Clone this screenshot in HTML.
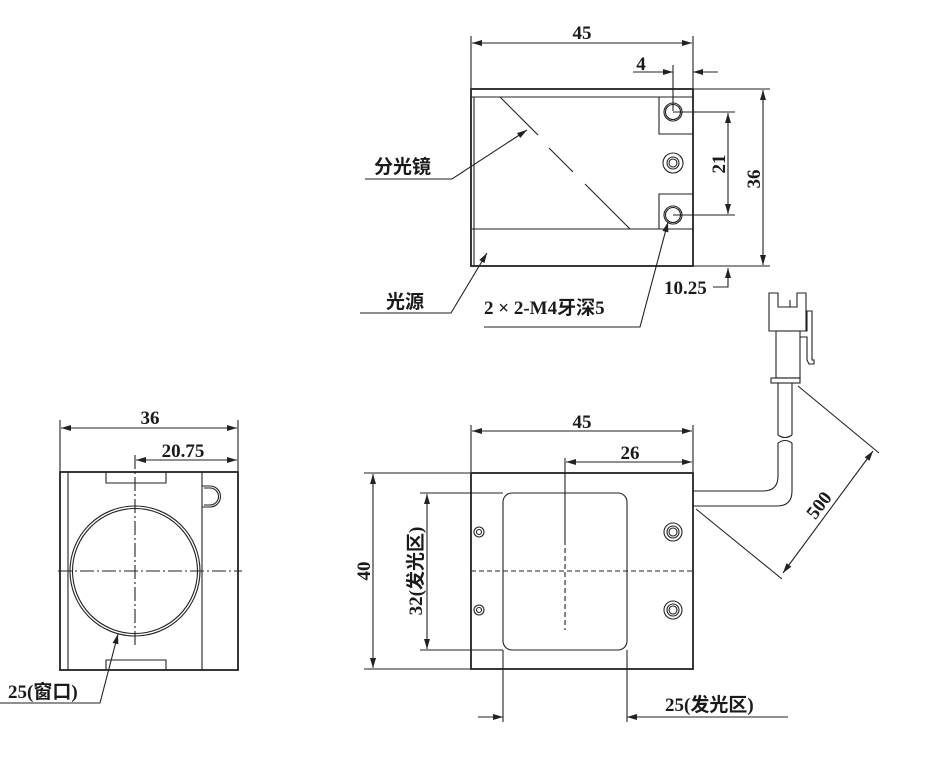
<!DOCTYPE html>
<html><head><meta charset="utf-8"><style>
html,body{margin:0;padding:0;background:#fff;}
svg{display:block;}
.n{font-family:"Liberation Serif",serif;font-weight:bold;font-size:19px;fill:#1a1a1a;}
.c{font-family:"Liberation Serif","Noto Sans CJK SC",sans-serif;font-weight:bold;font-size:19px;fill:#1a1a1a;}
</style></head><body>
<svg width="933" height="773" viewBox="0 0 933 773" xmlns="http://www.w3.org/2000/svg">
<defs>
<marker id="a" viewBox="0 0 10 6" refX="10" refY="3" markerWidth="11" markerHeight="6" orient="auto-start-reverse" markerUnits="userSpaceOnUse"><path d="M0,0 L10,3 L0,6z" fill="#222"/></marker>
</defs>
<g stroke="#222" stroke-width="1.1" fill="none">
<!-- TOP VIEW -->
<rect x="471" y="89" width="222" height="177" stroke-width="1.8"/>
<line x1="471" y1="97" x2="693" y2="97"/>
<line x1="471" y1="229" x2="693" y2="229"/>
<line x1="474" y1="97" x2="474" y2="266"/>
<polyline points="693,134 659,134 659,97"/>
<polyline points="693,194 659,194 659,229"/>
<circle cx="673" cy="112" r="9"/><circle cx="673" cy="112" r="7.5"/>
<circle cx="673" cy="215" r="9"/><circle cx="673" cy="215" r="7.5"/>
<circle cx="673" cy="163" r="10"/><circle cx="673" cy="163" r="6"/><circle cx="673" cy="163" r="4"/>
<line x1="500" y1="97" x2="538" y2="135"/>
<line x1="549" y1="148" x2="573" y2="172"/>
<line x1="585" y1="184" x2="630" y2="229"/>
<!-- dims top -->
<line x1="471" y1="36" x2="471" y2="88"/>
<line x1="693" y1="36" x2="693" y2="88"/>
<line x1="472" y1="43" x2="692" y2="43" marker-start="url(#a)" marker-end="url(#a)"/>
<line x1="673" y1="65" x2="673" y2="111"/>
<line x1="633" y1="72" x2="673" y2="72" marker-end="url(#a)"/>
<line x1="718" y1="72" x2="693" y2="72" marker-end="url(#a)"/>
<line x1="673" y1="112" x2="735" y2="112"/>
<line x1="673" y1="215" x2="735" y2="215"/>
<line x1="728" y1="113" x2="728" y2="214" marker-start="url(#a)" marker-end="url(#a)"/>
<line x1="693" y1="89" x2="770" y2="89"/>
<line x1="693" y1="266" x2="770" y2="266"/>
<line x1="763" y1="90" x2="763" y2="265" marker-start="url(#a)" marker-end="url(#a)"/>
<polyline points="713,287 728,287 728,268" marker-end="url(#a)"/>
<!-- leaders top -->
<polyline points="365,179 452,179 527,130" marker-end="url(#a)"/>
<polyline points="360,313 451,313 487,253" marker-end="url(#a)"/>
<polyline points="484,327 640,327 668,222" marker-end="url(#a)"/>

<!-- LEFT VIEW -->
<rect x="60" y="472" width="178" height="198" stroke-width="1.8"/>
<line x1="68" y1="472" x2="68" y2="670"/>
<line x1="202" y1="472" x2="202" y2="670"/>
<polyline points="106,472 106,483 166,483 166,472"/>
<polyline points="106,670 106,660 166,660 166,670"/>
<circle cx="135" cy="571" r="65"/><circle cx="135" cy="571" r="62.5"/>
<path d="M202,486 L210,486 A10.5,10.5 0 0 1 210,507 L202,507"/>
<path d="M204,488 L210,488 A8.5,8.5 0 0 1 210,505 L204,505"/>
<line x1="58" y1="571" x2="242" y2="571" stroke-dasharray="14,3,2,3"/>
<line x1="135" y1="455" x2="135" y2="645" stroke-dasharray="14,3,2,3"/>
<line x1="60" y1="420" x2="60" y2="471"/>
<line x1="238" y1="420" x2="238" y2="471"/>
<line x1="61" y1="428" x2="237" y2="428" marker-start="url(#a)" marker-end="url(#a)"/>
<line x1="136" y1="460" x2="237" y2="460" marker-start="url(#a)" marker-end="url(#a)"/>
<polyline points="0,703 100,703 118,634" marker-end="url(#a)"/>

<!-- FRONT VIEW -->
<rect x="471" y="473" width="222" height="196" stroke-width="1.8"/>
<rect x="503" y="493" width="124" height="157" rx="9"/>
<circle cx="479" cy="532" r="5"/><circle cx="479" cy="532" r="2.5"/>
<circle cx="479" cy="610" r="5"/><circle cx="479" cy="610" r="2.5"/>
<circle cx="673" cy="532" r="9"/><circle cx="673" cy="532" r="6"/><circle cx="673" cy="532" r="4"/>
<circle cx="673" cy="610" r="9"/><circle cx="673" cy="610" r="6"/><circle cx="673" cy="610" r="4"/>
<line x1="471" y1="571" x2="693" y2="571" stroke-dasharray="5,3"/>
<line x1="565" y1="540" x2="565" y2="630" stroke-dasharray="5,3"/>
<line x1="565" y1="458" x2="565" y2="540"/>
<line x1="471" y1="425" x2="471" y2="472"/>
<line x1="693" y1="425" x2="693" y2="472"/>
<line x1="472" y1="431" x2="692" y2="431" marker-start="url(#a)" marker-end="url(#a)"/>
<line x1="566" y1="462" x2="692" y2="462" marker-start="url(#a)" marker-end="url(#a)"/>
<line x1="364" y1="473" x2="470" y2="473"/>
<line x1="364" y1="669" x2="470" y2="669"/>
<line x1="373" y1="474" x2="373" y2="668" marker-start="url(#a)" marker-end="url(#a)"/>
<line x1="420" y1="493" x2="503" y2="493"/>
<line x1="420" y1="650" x2="503" y2="650"/>
<line x1="427" y1="494" x2="427" y2="649" marker-start="url(#a)" marker-end="url(#a)"/>
<line x1="503" y1="650" x2="503" y2="722"/>
<line x1="627" y1="650" x2="627" y2="722"/>
<line x1="478" y1="717" x2="503" y2="717" marker-end="url(#a)"/>
<line x1="788" y1="717" x2="627" y2="717" marker-end="url(#a)"/>
<!-- cable -->
<path d="M693,491 L763,491 Q778,491 778,476 L778,443"/>
<path d="M693,506 L777,506 Q792,506 792,491 L792,443"/>
<path d="M778,443 Q785,438 792,443"/>
<path d="M778,435 Q785,440 792,435"/>
<path d="M778,435 L778,383 M792,435 L792,383"/>
<!-- connector -->
<path d="M769,331 L769,293 L778,293 L778,307 L797,307 L797,293 L806,293 L806,331 Z"/>
<line x1="790" y1="300" x2="790" y2="307"/>
<rect x="776" y="331" width="24" height="47"/>
<rect x="771" y="378" width="29" height="5"/>
<path d="M800,331 L807,331 L807,311 L812,311 L812,360 L814,360 L814,364 L809,364 L807,360 L807,337 L800,337"/>
<!-- 500 dim -->
<line x1="696" y1="509" x2="782" y2="579"/>
<line x1="798" y1="386" x2="879" y2="453"/>
<line x1="783" y1="573" x2="873" y2="451" marker-start="url(#a)" marker-end="url(#a)"/>
</g>

<!-- TEXT -->
<text class="n" x="582" y="39" text-anchor="middle">45</text>
<text class="n" x="641" y="70" text-anchor="middle">4</text>
<text class="n" transform="translate(725,164) rotate(-90)" text-anchor="middle">21</text>
<text class="n" transform="translate(760,179) rotate(-90)" text-anchor="middle">36</text>
<text class="n" x="664" y="294">10.25</text>
<text class="c" x="374" y="173">分光镜</text>
<text class="c" x="386" y="308">光源</text>
<text class="c" x="484" y="314">2 × 2-M4牙深5</text>
<text class="n" x="150" y="424" text-anchor="middle">36</text>
<text class="n" x="183" y="457" text-anchor="middle">20.75</text>
<text class="c" x="8" y="698">25(窗口)</text>
<text class="n" x="582" y="428" text-anchor="middle">45</text>
<text class="n" x="630" y="459" text-anchor="middle">26</text>
<text class="n" transform="translate(370,571) rotate(-90)" text-anchor="middle">40</text>
<text class="c" transform="translate(422,571) rotate(-90)" text-anchor="middle">32(发光区)</text>
<text class="c" x="665" y="711">25(发光区)</text>
<text class="n" transform="translate(824,509) rotate(-53)" text-anchor="middle">500</text>
</svg>
</body></html>
